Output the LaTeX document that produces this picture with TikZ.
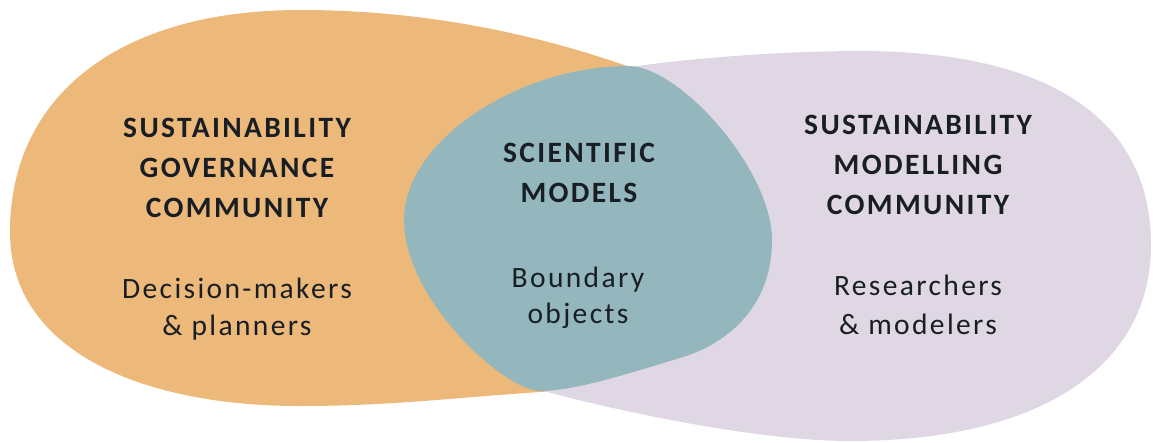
\documentclass[tikz,border=0pt]{standalone}
\usepackage{fontspec}
\setmainfont{Carlito}[LetterSpace=8]
\definecolor{orangeblob}{RGB}{237,185,123}
\definecolor{lavblob}{RGB}{224,215,228}
\definecolor{tealblob}{RGB}{148,183,189}
\definecolor{txt}{RGB}{24,30,36}
\tikzset{
  head/.style={anchor=base, inner sep=0pt, text=txt, font=\fontsize{29.5}{36}\selectfont\bfseries},
  sub/.style={anchor=base, inner sep=0pt, text=txt, font=\fontsize{29.5}{36}\selectfont},
}
\begin{document}
\begin{tikzpicture}[x=1pt,y=-1pt]
\useasboundingbox (0,0) rectangle (1153,442);
% orange blob (governance community)
\fill[orangeblob] (10,232) .. controls (10,95) and (120,10) .. (300,10)
  .. controls (420,10) and (530,32) .. (630,67)
  .. controls (690,88) and (770,130) .. (770,200)
  .. controls (770,300) and (650,386) .. (540,392)
  .. controls (450,398) and (390,406) .. (300,406)
  .. controls (140,406) and (10,350) .. (10,232) -- cycle;
% lavender blob (modelling community)
\fill[lavblob] (630,67) .. controls (700,57) and (790,51) .. (860,51)
  .. controls (1049,51) and (1151,119) .. (1151,245)
  .. controls (1151,363) and (1046,441) .. (850,441)
  .. controls (760,441) and (620,412) .. (540,390)
  .. controls (520,300) and (520,100) .. (630,67) -- cycle;
% teal blob (scientific models)
\fill[tealblob] (628,66) .. controls (680,66) and (772,170) .. (772,240)
  .. controls (772,305) and (730,343) .. (680,358)
  .. controls (630,373) and (575,391) .. (540,391)
  .. controls (505,391) and (404,300) .. (404,220)
  .. controls (404,140) and (520,66) .. (628,66) -- cycle;
% left texts
\node[head] (l1) at (237,137) {SUSTAINABILITY};
\node[head] (l2) at (237,177) {GOVERNANCE};
\node[head] (l3) at (237,217) {COMMUNITY};
\node[sub]  (l4) at (237,298) {Decision-makers};
\node[sub]  (l5) at (237,335) {\& planners};
% middle texts
\node[head] (m1) at (579,162) {SCIENTIFIC};
\node[head] (m2) at (579,202) {MODELS};
\node[sub]  (m3) at (578,287) {Boundary};
\node[sub]  (m4) at (578,323) {objects};
% right texts
\node[head] (r1) at (918,134) {SUSTAINABILITY};
\node[head] (r2) at (918,174) {MODELLING};
\node[head] (r3) at (918,214) {COMMUNITY};
\node[sub]  (r4) at (918,295) {Researchers};
\node[sub]  (r5) at (918,334) {\& modelers};
\end{tikzpicture}
\end{document}
